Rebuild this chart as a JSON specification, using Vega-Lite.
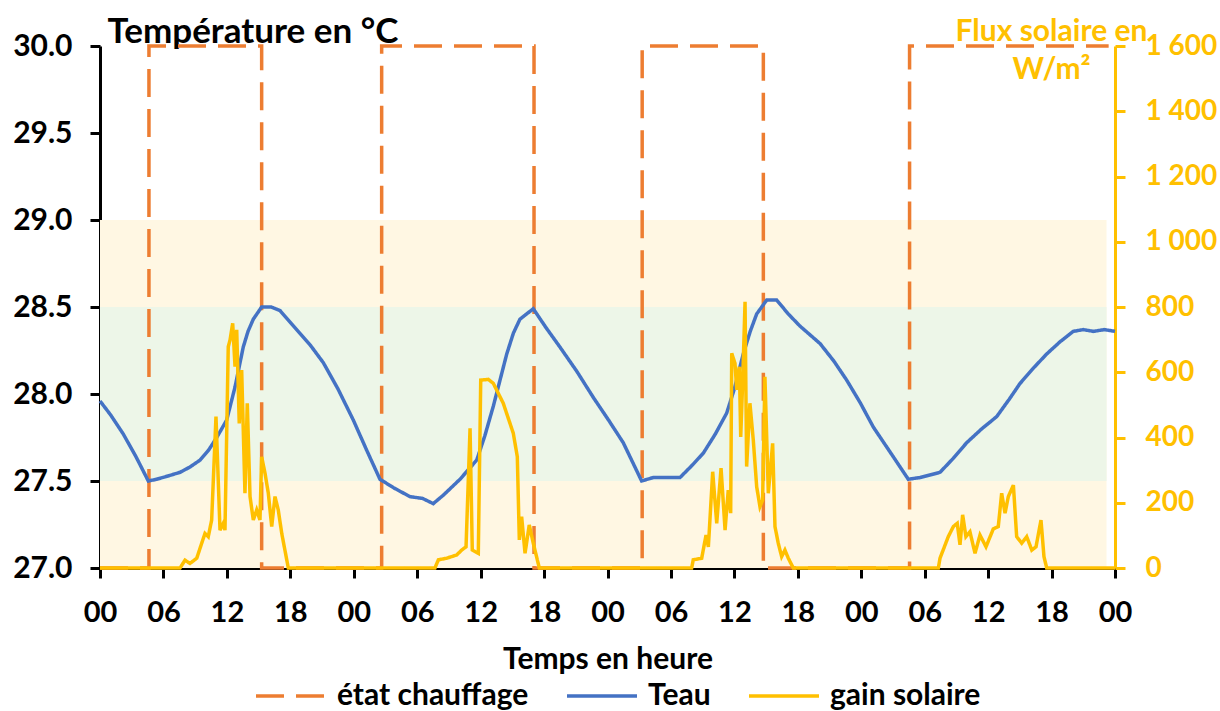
{
  "$schema": "https://vega.github.io/schema/vega-lite/v6.json",
  "autosize": {"type": "none"},
  "width": 1015,
  "height": 522,
  "padding": {"left": 100, "top": 46, "right": 105, "bottom": 143},
  "background": "white",
  "config": {"font": "Lato", "view": {"stroke": null}},
  "encoding": {
    "x": {
      "field": "h",
      "type": "quantitative",
      "scale": {"domain": [0, 96], "nice": false, "zero": false},
      "axis": {
        "values": [0, 6, 12, 18, 24, 30, 36, 42, 48, 54, 60, 66, 72, 78, 84, 90, 96],
        "labelExpr": "format(datum.value % 24, '02d')",
        "grid": false,
        "labelFlush": false,
        "labelFontSize": 29,
        "labelFontWeight": "bold",
        "labelColor": "black",
        "labelPadding": 20,
        "tickSize": 10,
        "tickWidth": 3,
        "tickColor": "black",
        "domainColor": "black",
        "domainWidth": 3,
        "title": "Temps en heure",
        "titleFontSize": 30,
        "titleFontWeight": "bold",
        "titleColor": "black",
        "titleBaseline": "alphabetic",
        "titleY": 100
      }
    }
  },
  "layer": [
    {
      "layer": [
        {
          "data": {"values": [{"h": 0, "h2": 95.2, "lo": 27, "hi": 29}]},
          "mark": {"type": "rect", "color": "#FFF7E3"},
          "encoding": {
            "x2": {"field": "h2"},
            "y": {
              "field": "lo",
              "type": "quantitative",
              "title": "Température en °C",
              "scale": {"domain": [27, 30], "nice": false, "zero": false},
              "axis": {
                "orient": "left",
                "values": [27, 27.5, 28, 28.5, 29, 29.5, 30],
                "format": ".1f",
                "grid": false,
                "labelFontSize": 30,
                "labelFontWeight": "bold",
                "labelColor": "black",
                "labelPadding": 18,
                "tickSize": 10,
                "tickWidth": 3,
                "tickColor": "black",
                "domainColor": "black",
                "domainWidth": 3,
                "titleAngle": 0,
                "titleAlign": "left",
                "titleBaseline": "alphabetic",
                "titleX": 7,
                "titleY": -4,
                "titleFontSize": 35,
                "titleFontWeight": "bold",
                "titleColor": "black"
              }
            },
            "y2": {"field": "hi"}
          }
        },
        {
          "data": {"values": [{"h": 0, "h2": 95.2, "lo": 27.5, "hi": 28.5}]},
          "mark": {"type": "rect", "color": "#EDF6E8"},
          "encoding": {
            "x2": {"field": "h2"},
            "y": {"field": "lo", "type": "quantitative", "title": "Température en °C"},
            "y2": {"field": "hi"}
          }
        },
        {
          "data": {"values": [
            {"h": 0, "v": 27}, {"h": 4.63, "v": 30}, {"h": 15.29, "v": 27}, {"h": 26.64, "v": 30},
            {"h": 41.05, "v": 27}, {"h": 51.28, "v": 30}, {"h": 62.74, "v": 27}, {"h": 76.57, "v": 30},
            {"h": 95.4, "v": 30}
          ]},
          "mark": {"type": "line", "interpolate": "step-after", "strokeWidth": 3.5},
          "encoding": {
            "y": {"field": "v", "type": "quantitative", "title": "Température en °C"},
            "color": {
              "datum": "état chauffage",
              "type": "nominal",
              "scale": {"domain": ["état chauffage", "Teau", "gain solaire"], "range": ["#ED7D31", "#4472C4", "#FFC000"]},
              "legend": {"orient": "none", "legendX": 154, "legendY": 613, "direction": "horizontal", "title": null, "symbolType": "stroke", "symbolSize": 4900, "symbolStrokeWidth": 3.5, "labelFontSize": 30, "labelFontWeight": "bold", "labelColor": "black", "labelOffset": 9, "columnPadding": 31, "labelLimit": 400}
            },
            "strokeDash": {
              "datum": "état chauffage",
              "type": "nominal",
              "scale": {"domain": ["état chauffage", "Teau", "gain solaire"], "range": [[28, 12], [1, 0], [1, 0]]},
              "legend": {"orient": "none", "legendX": 154, "legendY": 613, "direction": "horizontal", "title": null, "symbolType": "stroke", "symbolSize": 4900, "symbolStrokeWidth": 3.5, "labelFontSize": 30, "labelFontWeight": "bold", "labelColor": "black", "labelOffset": 9, "columnPadding": 31, "labelLimit": 400}
            }
          }
        },
        {
          "data": {"values": [
            {"h": 0, "t": 27.96}, {"h": 1, "t": 27.88}, {"h": 2.2, "t": 27.77}, {"h": 3.4, "t": 27.64}, {"h": 4.57, "t": 27.5},
            {"h": 5.36, "t": 27.51}, {"h": 6.5, "t": 27.53}, {"h": 7.57, "t": 27.55}, {"h": 8.5, "t": 27.58}, {"h": 9.46, "t": 27.62},
            {"h": 10.3, "t": 27.68}, {"h": 11.04, "t": 27.75}, {"h": 11.98, "t": 27.85}, {"h": 12.77, "t": 28.04}, {"h": 13.55, "t": 28.27},
            {"h": 14.0, "t": 28.36}, {"h": 14.5, "t": 28.43}, {"h": 15.29, "t": 28.5}, {"h": 16.2, "t": 28.5}, {"h": 17.02, "t": 28.48},
            {"h": 18.6, "t": 28.37}, {"h": 19.9, "t": 28.28}, {"h": 21.12, "t": 28.18}, {"h": 22.5, "t": 28.03}, {"h": 23.96, "t": 27.85},
            {"h": 25.2, "t": 27.68}, {"h": 26.48, "t": 27.51}, {"h": 27.8, "t": 27.46}, {"h": 29.32, "t": 27.41}, {"h": 30.5, "t": 27.4},
            {"h": 31.52, "t": 27.37}, {"h": 32.5, "t": 27.42}, {"h": 34.05, "t": 27.51}, {"h": 35.63, "t": 27.62}, {"h": 36.4, "t": 27.76},
            {"h": 37.2, "t": 27.93}, {"h": 38.47, "t": 28.23}, {"h": 39.1, "t": 28.35}, {"h": 39.72, "t": 28.43}, {"h": 40.98, "t": 28.49},
            {"h": 42.2, "t": 28.38}, {"h": 43.5, "t": 28.27}, {"h": 45.1, "t": 28.13}, {"h": 46.66, "t": 27.98}, {"h": 48.1, "t": 27.85},
            {"h": 49.49, "t": 27.72}, {"h": 51.23, "t": 27.5}, {"h": 52.33, "t": 27.52}, {"h": 54.86, "t": 27.52}, {"h": 56.0, "t": 27.59},
            {"h": 57.06, "t": 27.66}, {"h": 58.2, "t": 27.77}, {"h": 59.27, "t": 27.89}, {"h": 60.0, "t": 28.03}, {"h": 60.84, "t": 28.23},
            {"h": 61.5, "t": 28.36}, {"h": 62.11, "t": 28.46}, {"h": 63.06, "t": 28.54}, {"h": 64.0, "t": 28.54}, {"h": 65.1, "t": 28.46},
            {"h": 66.21, "t": 28.39}, {"h": 68.1, "t": 28.29}, {"h": 69.4, "t": 28.19}, {"h": 70.62, "t": 28.08}, {"h": 71.9, "t": 27.95},
            {"h": 73.14, "t": 27.81}, {"h": 74.8, "t": 27.66}, {"h": 76.45, "t": 27.51}, {"h": 77.56, "t": 27.52}, {"h": 79.45, "t": 27.55},
            {"h": 80.7, "t": 27.63}, {"h": 81.97, "t": 27.72}, {"h": 83.4, "t": 27.8}, {"h": 84.81, "t": 27.87}, {"h": 86.0, "t": 27.97},
            {"h": 87.01, "t": 28.06}, {"h": 88.3, "t": 28.15}, {"h": 89.54, "t": 28.23}, {"h": 90.8, "t": 28.3}, {"h": 92.05, "t": 28.36},
            {"h": 93.0, "t": 28.37}, {"h": 93.95, "t": 28.36}, {"h": 95.0, "t": 28.37}, {"h": 96, "t": 28.36}
          ]},
          "mark": {"type": "line", "strokeWidth": 3.5},
          "encoding": {
            "y": {"field": "t", "type": "quantitative", "title": "Température en °C"},
            "color": {"datum": "Teau", "type": "nominal"},
            "strokeDash": {"datum": "Teau", "type": "nominal"}
          }
        }
      ]
    },
    {
      "data": {"values": [
        {"h": 0, "g": 0}, {"h": 7.57, "g": 0}, {"h": 8.04, "g": 24}, {"h": 8.51, "g": 14}, {"h": 9.15, "g": 30}, {"h": 9.62, "g": 76},
        {"h": 9.93, "g": 106}, {"h": 10.24, "g": 96}, {"h": 10.56, "g": 147}, {"h": 10.97, "g": 464}, {"h": 11.35, "g": 116},
        {"h": 11.66, "g": 137}, {"h": 11.82, "g": 116}, {"h": 12.13, "g": 678}, {"h": 12.3, "g": 699}, {"h": 12.55, "g": 750},
        {"h": 12.77, "g": 617}, {"h": 12.93, "g": 730}, {"h": 13.17, "g": 443}, {"h": 13.4, "g": 607}, {"h": 13.71, "g": 229},
        {"h": 13.93, "g": 505}, {"h": 14.19, "g": 219}, {"h": 14.5, "g": 147}, {"h": 14.82, "g": 178}, {"h": 15.13, "g": 147},
        {"h": 15.29, "g": 341}, {"h": 15.61, "g": 290}, {"h": 15.92, "g": 229}, {"h": 16.24, "g": 127}, {"h": 16.55, "g": 219},
        {"h": 16.86, "g": 178}, {"h": 17.19, "g": 106}, {"h": 17.81, "g": 0},
        {"h": 31.68, "g": 0}, {"h": 32.0, "g": 25}, {"h": 32.79, "g": 30}, {"h": 33.74, "g": 40}, {"h": 34.21, "g": 55},
        {"h": 34.62, "g": 65}, {"h": 35.0, "g": 428}, {"h": 35.21, "g": 55}, {"h": 35.78, "g": 45}, {"h": 36.01, "g": 576},
        {"h": 36.73, "g": 578}, {"h": 37.2, "g": 566}, {"h": 38.14, "g": 505}, {"h": 39.09, "g": 413}, {"h": 39.47, "g": 341},
        {"h": 39.66, "g": 86}, {"h": 39.88, "g": 157}, {"h": 40.2, "g": 45}, {"h": 40.6, "g": 132}, {"h": 40.98, "g": 76},
        {"h": 41.55, "g": 0},
        {"h": 55.96, "g": 0}, {"h": 56.11, "g": 25}, {"h": 56.91, "g": 30}, {"h": 57.32, "g": 101}, {"h": 57.54, "g": 65},
        {"h": 57.95, "g": 295}, {"h": 58.33, "g": 137}, {"h": 58.74, "g": 306}, {"h": 59.12, "g": 116}, {"h": 59.42, "g": 239},
        {"h": 59.65, "g": 168}, {"h": 59.75, "g": 658}, {"h": 60.06, "g": 627}, {"h": 60.22, "g": 546}, {"h": 60.47, "g": 617},
        {"h": 60.6, "g": 402}, {"h": 60.79, "g": 576}, {"h": 61.01, "g": 816}, {"h": 61.16, "g": 311}, {"h": 61.47, "g": 505},
        {"h": 61.79, "g": 392}, {"h": 62.11, "g": 249}, {"h": 62.42, "g": 188}, {"h": 62.67, "g": 208}, {"h": 62.89, "g": 586},
        {"h": 63.21, "g": 229}, {"h": 63.62, "g": 382}, {"h": 63.84, "g": 127}, {"h": 64.15, "g": 76}, {"h": 64.47, "g": 35},
        {"h": 64.78, "g": 55}, {"h": 65.1, "g": 30}, {"h": 65.57, "g": 0},
        {"h": 79.29, "g": 0}, {"h": 79.45, "g": 30}, {"h": 80.23, "g": 96}, {"h": 80.71, "g": 127}, {"h": 81.08, "g": 137},
        {"h": 81.34, "g": 71}, {"h": 81.59, "g": 163}, {"h": 81.9, "g": 96}, {"h": 82.28, "g": 111}, {"h": 82.76, "g": 45},
        {"h": 83.23, "g": 101}, {"h": 83.8, "g": 65}, {"h": 84.49, "g": 120}, {"h": 84.96, "g": 127}, {"h": 85.28, "g": 229},
        {"h": 85.6, "g": 168}, {"h": 85.91, "g": 219}, {"h": 86.39, "g": 254}, {"h": 86.7, "g": 96}, {"h": 87.18, "g": 76},
        {"h": 87.65, "g": 96}, {"h": 88.13, "g": 55}, {"h": 88.53, "g": 65}, {"h": 89.0, "g": 147}, {"h": 89.28, "g": 35},
        {"h": 89.54, "g": 0}, {"h": 96, "g": 0}
      ]},
      "mark": {"type": "line", "strokeWidth": 3.5},
      "encoding": {
        "y": {
          "field": "g",
          "type": "quantitative",
          "title": ["Flux solaire en", "W/m²"],
          "scale": {"domain": [0, 1600], "nice": false},
          "axis": {
            "orient": "right",
            "values": [0, 200, 400, 600, 800, 1000, 1200, 1400, 1600],
            "labelExpr": "replace(format(datum.value, ','), ',', ' ')",
            "grid": false,
            "labelFontSize": 28,
            "labelFontWeight": "bold",
            "labelColor": "#FFC000",
            "labelPadding": 20,
            "tickSize": 10,
            "tickWidth": 3,
            "tickColor": "#FFC000",
            "domainColor": "#FFC000",
            "domainWidth": 3,
            "titleAngle": 0,
            "titleAlign": "center",
            "titleBaseline": "alphabetic",
            "titleX": -64,
            "titleY": -6,
            "titleLineHeight": 38,
            "titleFontSize": 30,
            "titleFontWeight": "bold",
            "titleColor": "#FFC000"
          }
        },
        "color": {"datum": "gain solaire", "type": "nominal"},
        "strokeDash": {"datum": "gain solaire", "type": "nominal"}
      }
    }
  ],
  "resolve": {"scale": {"y": "independent"}}
}
